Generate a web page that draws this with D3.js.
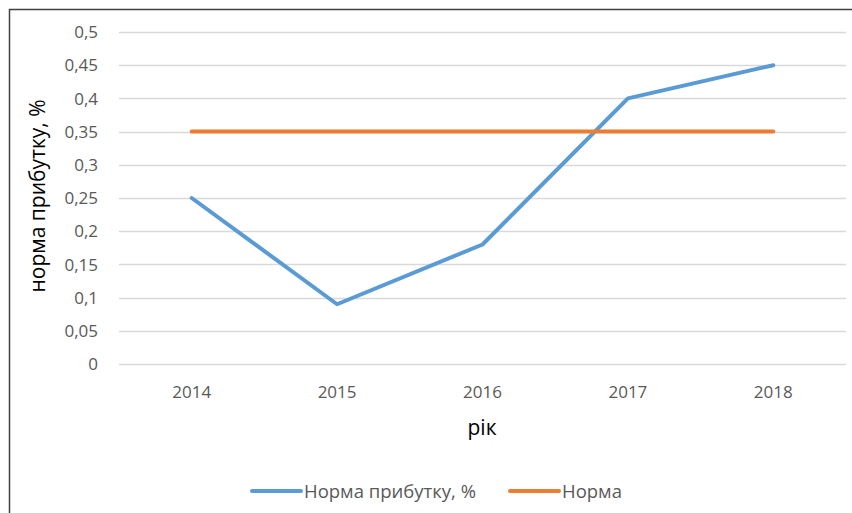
<!DOCTYPE html>
<html lang="uk">
<head>
<meta charset="UTF-8">
<title>Норма прибутку</title>
<script src="https://cdn.jsdelivr.net/npm/d3@7"></script>
<style>
body { margin: 0; background: #fff; }
svg { display: block; font-family: 'Open Sans', 'Noto Sans', sans-serif; }
</style>
</head>
<body>
<svg width="852" height="513"></svg>
<script>
// chart data
const years = ["2014", "2015", "2016", "2017", "2018"];
const profitRate = [0.25, 0.09, 0.18, 0.40, 0.45];
const norm = [0.35, 0.35, 0.35, 0.35, 0.35];
const yTicks = [0, 0.05, 0.1, 0.15, 0.2, 0.25, 0.3, 0.35, 0.4, 0.45, 0.5];

const svg = d3.select("svg");
const plotLeft = 119, plotRight = 846, plotTop = 32, plotBottom = 364;

// outer frame (right and bottom edges are cut off)
svg.append("path")
    .attr("d", "M9.5,513 V9.5 H852")
    .attr("fill", "none")
    .attr("stroke", "#404040")
    .attr("stroke-width", 1.5);

const x = d3.scaleBand().domain(years).range([plotLeft, plotRight]);
const y = d3.scaleLinear().domain([0, 0.5]).range([plotBottom, plotTop]);

const fmt = v => String(+v.toFixed(2)).replace(".", ",");

// gridlines
svg.append("g").selectAll("line").data(yTicks).join("line")
    .attr("x1", plotLeft).attr("x2", plotRight)
    .attr("y1", d => Math.round(y(d)) + 0.5).attr("y2", d => Math.round(y(d)) + 0.5)
    .attr("stroke", "#d9d9d9").attr("stroke-width", 1.3);

// y axis labels
svg.append("g").selectAll("text").data(yTicks).join("text")
    .attr("x", 98).attr("y", d => y(d))
    .attr("dy", "0.36em")
    .attr("text-anchor", "end")
    .attr("fill", "#595959")
    .attr("font-size", 17)
    .text(fmt);

// x axis labels
svg.append("g").selectAll("text").data(years).join("text")
    .attr("x", d => x(d) + x.bandwidth() / 2)
    .attr("y", 398)
    .attr("text-anchor", "middle")
    .attr("fill", "#595959")
    .attr("font-size", 17)
    .text(d => d);

// axis titles
svg.append("text")
    .attr("transform", "translate(45,196) rotate(-90)")
    .attr("text-anchor", "middle")
    .attr("fill", "#000")
    .attr("font-size", 21)
    .text("норма прибутку, %");

svg.append("text")
    .attr("x", 482).attr("y", 435)
    .attr("text-anchor", "middle")
    .attr("fill", "#000")
    .attr("font-size", 21)
    .text("рік");

const line = d3.line()
    .x((d, i) => x(years[i]) + x.bandwidth() / 2)
    .y(d => y(d));

const series = [
    { name: "Норма прибутку, %", values: profitRate, color: "#5b9bd5" },
    { name: "Норма", values: norm, color: "#ed7d31" }
];

svg.append("g").selectAll("path").data(series).join("path")
    .attr("d", d => line(d.values))
    .attr("fill", "none")
    .attr("stroke", d => d.color)
    .attr("stroke-width", 4)
    .attr("stroke-linejoin", "round")
    .attr("stroke-linecap", "round");

// legend
const legendX = [252, 510];
const lg = svg.append("g").selectAll("g").data(series).join("g")
    .attr("transform", (d, i) => `translate(${legendX[i]},491)`);
lg.append("line")
    .attr("x1", 0).attr("x2", 49)
    .attr("stroke", d => d.color)
    .attr("stroke-width", 4)
    .attr("stroke-linecap", "round");
lg.append("text")
    .attr("x", 52).attr("dy", "0.36em")
    .attr("fill", "#595959")
    .attr("font-size", 18.5)
    .text(d => d.name);
</script>
</body>
</html>
